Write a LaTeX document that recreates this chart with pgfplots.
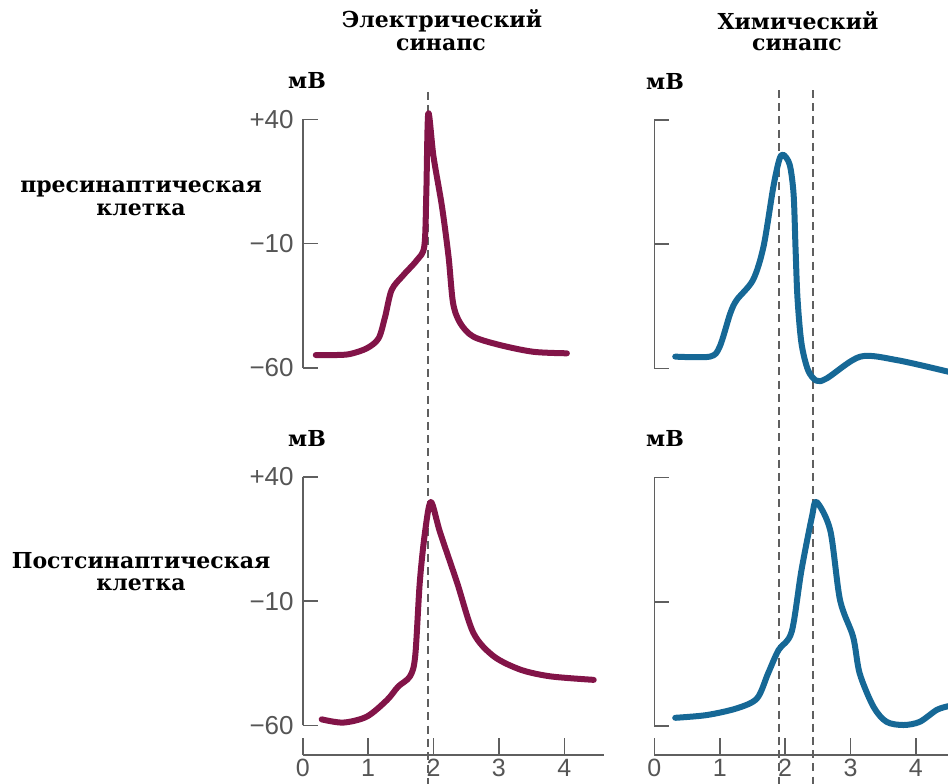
\documentclass[border=0pt]{standalone}
\usepackage{fontspec}
\setmainfont{DejaVu Serif}
\newfontfamily\tickfont{Liberation Sans}
\usepackage{pgfplots}
\pgfplotsset{compat=1.18}

\definecolor{elec}{RGB}{130,20,72}
\definecolor{chem}{RGB}{22,104,150}
\definecolor{axgray}{RGB}{95,95,95}
\definecolor{numgray}{RGB}{85,85,85}

\pgfplotsset{
  panel/.style={
    x=32.7pt, y=1.242pt, xmin=0, xmax=4.6, ymin=-60, ymax=40,
    clip=false, hide x axis, axis y line*=left,
    axis line style={axgray, line width=0.8pt, -},
    ytick={-60,-10,40}, tick align=inside, major tick length=7.5pt,
    major tick style={axgray, line width=0.8pt},
    yticklabels={}, anchor=south west,
    yticklabel style={font=\tickfont\fontsize{13}{15}\selectfont, text=numgray, xshift=-1pt},
  },
  timeaxis/.style={
    x=32.7pt, y=1pt, xmin=0, xmax=4.6, ymin=0, ymax=1,
    hide y axis, axis x line*=bottom, anchor=south west,
    axis line style={axgray, line width=0.8pt, -},
    xtick={0,1,2,3,4}, xticklabels={0,1,2,3,4},
    tick align=inside, major tick length=8.5pt,
    major tick style={axgray, line width=0.8pt},
    xticklabel style={font=\tickfont\fontsize{12.5}{14}\selectfont, text=numgray, inner ysep=1pt, yshift=-1pt},
  },
  trace/.style={line width=3pt, smooth, tension=0.5, line cap=round, line join=round},
  marker/.style={axgray, line width=1pt, dash pattern=on 4pt off 2.6pt},
}

\begin{document}
\begin{tikzpicture}
\path[use as bounding box] (0pt,0pt) rectangle (474pt,-391.5pt);
\clip (0pt,0pt) rectangle (474pt,-391.5pt);

% electrical synapse, presynaptic
\begin{axis}[panel, at={(151.35pt,-183.85pt)}, yticklabels={−60,−10,+40}]
\addplot[marker] coordinates {(1.91,51) (1.91,-228)};
\addplot[trace, elec] coordinates {
(0.20,-54.9) (0.50,-54.9) (0.72,-54.5) (0.98,-52.2) (1.16,-48.2) (1.26,-39.5)
(1.36,-28.7) (1.54,-22.7) (1.75,-16.6) (1.86,-11.0) (1.89,10.0) (1.92,42.4)
(2.00,25.0) (2.13,4.8) (2.23,-15.3) (2.30,-34.1) (2.41,-42.1) (2.61,-47.5)
(3.02,-50.9) (3.53,-53.6) (4.04,-54.2)};
\end{axis}

% electrical synapse, postsynaptic
\begin{axis}[panel, at={(151.35pt,-362.65pt)}, yticklabels={−60,−10,+40}]
\addplot[trace, elec] coordinates {
(0.29,-57.6) (0.62,-58.9) (0.98,-56.5) (1.29,-49.8) (1.46,-44.4) (1.64,-40.3)
(1.72,-32.2) (1.79,-2.5) (1.87,17.7) (1.96,29.9) (2.10,17.7) (2.36,-2.5)
(2.61,-22.8) (2.92,-32.2) (3.33,-37.6) (3.79,-40.3) (4.45,-41.7)};
\end{axis}

% chemical synapse, presynaptic
\begin{axis}[panel, at={(327.15pt,-184.15pt)}]
\addplot[marker] coordinates {(1.91,52) (1.91,-228)};
\addplot[marker] coordinates {(2.43,52) (2.43,-228)};
\addplot[trace, chem] coordinates {
(0.32,-55.3) (0.85,-55.3) (1.00,-51.3) (1.16,-38.0) (1.26,-32.5) (1.51,-24.4)
(1.67,-11.0) (1.82,13.0) (1.91,23.9) (1.97,26.0) (2.07,22.0) (2.13,10.0)
(2.16,-12.0) (2.19,-32.0) (2.25,-49.9) (2.35,-60.7) (2.48,-65.0) (2.64,-64.0)
(3.15,-55.3) (3.71,-56.7) (4.50,-61.4)};
\end{axis}

% chemical synapse, postsynaptic
\begin{axis}[panel, at={(327.15pt,-363pt)}]
\addplot[trace, chem] coordinates {
(0.32,-56.7) (0.80,-55.6) (1.26,-52.9) (1.57,-48.9) (1.74,-38.8) (1.90,-29.4)
(2.10,-22.1) (2.25,2.7) (2.41,24.2) (2.48,30.2) (2.69,18.8) (2.84,-9.3)
(3.04,-24.1) (3.14,-38.8) (3.35,-52.2) (3.55,-58.3) (3.81,-59.6) (4.06,-58.3)
(4.32,-53.5) (4.50,-52.0)};
\end{axis}

% time axes
\begin{axis}[timeaxis, at={(151.35pt,-377.5pt)}]
\end{axis}
\begin{axis}[timeaxis, at={(327.15pt,-377.5pt)}]
\end{axis}

\begin{scope}[x=0.5pt, y=-0.5pt, every node/.style={inner sep=0pt, font=\bfseries\fontsize{11}{12}\selectfont}]
\node at (442,21) {Электрический};
\node at (441,45) {синапс};
\node at (798,21) {Химический};
\node at (797,45) {синапс};
\node at (307,80) {мВ};
\node at (665,81) {мВ};
\node at (307,438) {мВ};
\node at (665,438) {мВ};
\node at (141,189) {пресинаптическая};
\node at (141,210) {клетка};
\node at (141,561) {Постсинаптическая};
\node at (141,585) {клетка};
\end{scope}
\end{tikzpicture}
\end{document}
